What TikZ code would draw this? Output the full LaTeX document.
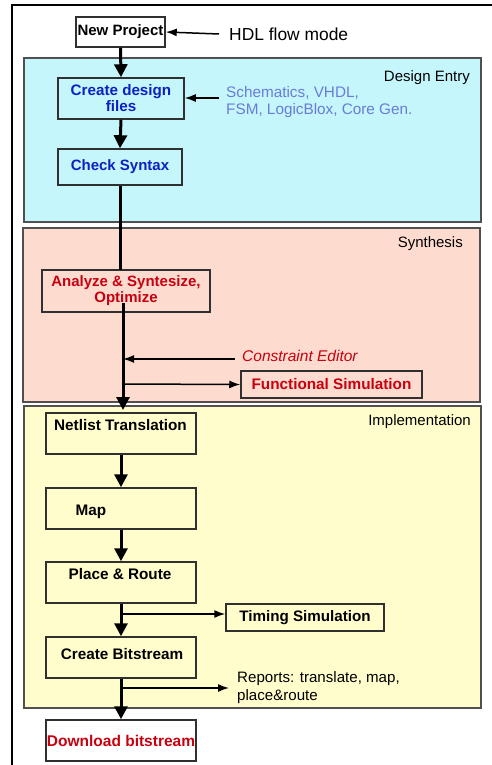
\documentclass[tikz,border=0pt]{standalone}
\usepackage{fontspec}
\setmainfont{Liberation Sans}
\usetikzlibrary{arrows.meta}
\definecolor{deFill}{HTML}{C4F6FC}
\definecolor{syFill}{HTML}{FDDCCF}
\definecolor{imFill}{HTML}{FFFDCC}
\definecolor{panelLine}{HTML}{505050}
\definecolor{darkBlue}{HTML}{1020C0}
\definecolor{lightBlue}{HTML}{6A7CD8}
\definecolor{darkRed}{HTML}{C80010}
\definecolor{boxLine}{HTML}{303030}
\tikzset{
  panel/.style={draw=panelLine, line width=1.5pt},
  stepbox/.style={draw=boxLine, line width=1.5pt, minimum width=150pt, minimum height=41pt, inner sep=0pt, font=\bfseries\fontsize{15}{17}\selectfont},
  paneltitle/.style={anchor=east, font=\fontsize{15}{18}\selectfont, inner sep=0pt},
  note/.style={anchor=west, align=left, font=\fontsize{15.3}{17.5}\selectfont, inner sep=0pt},
  mainflow/.style={line width=3pt, -{Triangle[length=13pt, width=13pt]}},
  mainline/.style={line width=3pt},
  sideflow/.style={line width=1.5pt, -{Latex[length=11pt, width=8pt]}},
}
\begin{document}
\begin{tikzpicture}[x=1pt, y=-1pt]
\useasboundingbox (0,0) rectangle (492,765);
\fill[white] (0,0) rectangle (492,765);
% outer frame
\draw[line width=1.4pt] (12,765) -- (12,5) -- (492,5);
% panels
\filldraw[panel, fill=deFill] (24,58) rectangle (481,222);
\filldraw[panel, fill=syFill] (23,228) rectangle (480,402);
\filldraw[panel, fill=imFill] (24,406) rectangle (481,708);
\node[paneltitle] (tde) at (470,78) {Design Entry};
\node[paneltitle] (tsy) at (463,244) {Synthesis};
\node[paneltitle] (tim) at (471,422) {Implementation};
% boxes
\node[stepbox, fill=white, minimum width=89pt, minimum height=30pt] (np) at (120.5,32) {New Project};
\node[stepbox, fill=deFill, minimum width=126pt, text=darkBlue, align=center, font=\bfseries\fontsize{15.2}{16}\selectfont] (cdf) at (121,98.5) {Create design\\files};
\node[stepbox, fill=deFill, minimum width=124pt, minimum height=36pt, text=darkBlue, font=\bfseries\fontsize{15}{17}\selectfont] (cs) at (120,167) {Check Syntax};
\node[stepbox, fill=syFill, minimum width=168pt, minimum height=42pt, text=darkRed, align=center, font=\bfseries\fontsize{15}{16}\selectfont] (an) at (126,291) {Analyze \& Syntesize,\\Optimize};
\node[stepbox, fill=syFill, minimum width=181pt, minimum height=27pt, text=darkRed, font=\bfseries\fontsize{15.3}{17}\selectfont] (fs) at (331.5,384.5) {Functional Simulation};
\node[stepbox, fill=imFill] (nt) at (121,433.5) {};
\node[font=\bfseries\fontsize{15.3}{17}\selectfont, inner sep=0pt] (ntt) at (120.5,425) {Netlist Translation};
\node[stepbox, fill=imFill] (mp) at (121,508.5) {};
\node[font=\bfseries\fontsize{15.3}{17}\selectfont, inner sep=0pt] (mpt) at (91,512) {Map};
\node[stepbox, fill=imFill] (pr) at (121,582.5) {};
\node[font=\bfseries\fontsize{15.3}{17}\selectfont, inner sep=0pt] (prt) at (120,574) {Place \& Route};
\node[stepbox, fill=imFill, minimum width=158pt, minimum height=27pt, font=\bfseries\fontsize{15.2}{17}\selectfont] (ts) at (305,617.5) {Timing Simulation};
\node[stepbox, fill=imFill] (cb) at (121,657.5) {};
\node[font=\bfseries\fontsize{15.3}{17}\selectfont, inner sep=0pt] (cbt) at (122,654) {Create Bitstream};
\node[stepbox, fill=white, text=darkRed, font=\bfseries\fontsize{15.5}{17}\selectfont] (db) at (121,740.5) {Download bitstream};
% side texts
\node[note, font=\fontsize{17.4}{20}\selectfont] (hdl) at (229,34) {HDL flow mode};
\node[note, text=lightBlue, anchor=north west] (sch) at (226,86) {Schematics, VHDL,\\FSM, LogicBlox, Core Gen.};
\node[note, text=darkRed, font=\itshape\fontsize{15.5}{18}\selectfont] (ce) at (242,356) {Constraint Editor};
\node[note, anchor=north west, font=\fontsize{15.1}{18}\selectfont] (rep) at (237,671) {Reports: translate, map,\\place\&route};
% coordinates for branch points
\coordinate (ceT) at (123,359);
\coordinate (ceS) at (235,359);
\coordinate (fsS) at (123,384);
\coordinate (tsS) at (121,614);
\coordinate (repS) at (121,688);
\coordinate (repE) at (229,688);
% main flow
\draw[mainflow] (np.south) -- (cdf.north);
\draw[mainflow] (cdf.south) -- (cs.north);
\draw[mainline] (cs.south) -- (120,270);
\draw[mainflow] (123,303) -- (123,410);
\draw[mainflow] (nt.south) -- (mp.north);
\draw[mainflow] (mp.south) -- (pr.north);
\draw[mainflow] (pr.south) -- (cb.north);
\draw[mainflow] (cb.south) -- (db.north);
% side arrows
\draw[sideflow] (219,34) -- (np.east);
\draw[sideflow] (219,98) -- (cdf.east |- 0,98);
\draw[sideflow] (ceS) -- (ceT);
\draw[sideflow] (fsS) -- (fs.west);
\draw[sideflow] (tsS) -- (ts.west |- tsS);
\draw[sideflow] (repS) -- (repE);
\end{tikzpicture}
\end{document}
